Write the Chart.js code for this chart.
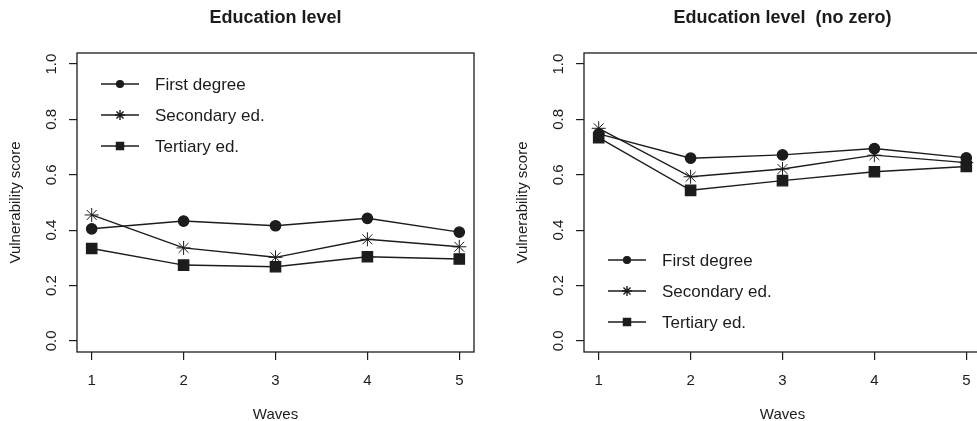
<!DOCTYPE html>
<html>
<head>
<meta charset="utf-8">
<script src="https://cdn.jsdelivr.net/npm/chart.js@4.4.1/dist/chart.umd.min.js"></script>
<style>
  html, body { margin: 0; padding: 0; background: #fff; overflow: hidden; width: 977px; height: 421px; }
  canvas { position: absolute; top: 0; }
  #left { left: 0; }
  #right { left: 490px; }
</style>
</head>
<body>
<canvas id="left" width="490" height="421"></canvas>
<canvas id="right" width="507" height="421"></canvas>
<script>
// data
const waves = [1, 2, 3, 4, 5];
const seriesNames = ["First degree", "Secondary ed.", "Tertiary ed."];
const yTicks = [0.0, 0.2, 0.4, 0.6, 0.8, 1.0];

const firstDegree = [0.405, 0.433, 0.416, 0.443, 0.393];
const secondaryEd = [0.455, 0.336, 0.302, 0.367, 0.340];
const tertiaryEd = [0.334, 0.274, 0.268, 0.304, 0.296];

const firstDegreeNZ = [0.748, 0.660, 0.672, 0.695, 0.661];
const secondaryEdNZ = [0.768, 0.593, 0.621, 0.671, 0.644];
const tertiaryEdNZ = [0.734, 0.544, 0.579, 0.611, 0.630];

const INK = "#1c1c1c";
const FONT = "'Liberation Sans', Arial, sans-serif";

// marker styles, R pch 19 / 8 / 15
const markers = [
  { pointStyle: "circle", radius: 5.2, legendRadius: 3.4, bw: 1.3 },
  { pointStyle: "star", radius: 7, legendRadius: 5, bw: 1 },
  { pointStyle: "rect", radius: 7.3, legendRadius: 5, bw: 1.3 },
];

// box around the plot + rotated y tick labels + R style legend
const rPlotBits = {
  id: "rPlotBits",
  afterDraw(chart, args, opts) {
    const { ctx, chartArea: a } = chart;
    const ys = chart.scales.y;
    ctx.save();
    ctx.strokeStyle = INK;
    ctx.lineWidth = 1.3;
    ctx.strokeRect(a.left, a.top, a.right - a.left, a.bottom - a.top);

    // y tick labels (vertical, like las=0)
    ctx.fillStyle = INK;
    ctx.font = "15px " + FONT;
    ctx.textAlign = "center";
    ctx.textBaseline = "middle";
    ys.ticks.forEach(t => {
      const y = ys.getPixelForValue(t.value);
      ctx.save();
      ctx.translate(a.left - 25, y);
      ctx.rotate(-Math.PI / 2);
      ctx.fillText(t.value.toFixed(1), 0, 0);
      ctx.restore();
    });

    // legend
    chart.data.datasets.forEach((ds, i) => {
      const y = a.top + opts.y + i * 31;
      const x0 = a.left + opts.x;
      ctx.strokeStyle = INK;
      ctx.lineWidth = 1.4;
      ctx.beginPath();
      ctx.moveTo(x0, y);
      ctx.lineTo(x0 + 38, y);
      ctx.stroke();
      ctx.fillStyle = INK;
      Chart.helpers.drawPoint(ctx, {
        pointStyle: markers[i].pointStyle,
        radius: markers[i].legendRadius,
        rotation: 0,
        borderWidth: markers[i].bw,
      }, x0 + 19, y);
      ctx.font = "17px " + FONT;
      ctx.textAlign = "left";
      ctx.textBaseline = "middle";
      ctx.fillText(ds.label, x0 + 54, y + 1);
    });
    ctx.restore();
  },
};

function makeChart(id, title, values, legendPos, padLeft) {
  const datasets = values.map((vals, i) => ({
    label: seriesNames[i],
    data: waves.map((w, j) => ({ x: w, y: vals[j] })),
    borderColor: INK,
    backgroundColor: INK,
    borderWidth: 1.4,
    pointStyle: markers[i].pointStyle,
    pointRadius: markers[i].radius,
    pointBorderWidth: markers[i].bw,
    pointBorderColor: INK,
    pointBackgroundColor: INK,
    tension: 0,
  }));

  return new Chart(document.getElementById(id), {
    type: "line",
    data: { datasets },
    plugins: [rPlotBits],
    options: {
      responsive: false,
      animation: false,
      layout: { padding: { left: padLeft, right: 16, top: 0, bottom: 0 } },
      plugins: {
        legend: { display: false },
        tooltip: { enabled: false },
        title: {
          display: true,
          text: title,
          fullSize: false,
          color: INK,
          font: { family: FONT, size: 18, weight: "bold", lineHeight: 1 },
          padding: { top: 9, bottom: 26 },
        },
        rPlotBits: legendPos,
      },
      scales: {
        x: {
          type: "linear",
          min: 0.84,
          max: 5.16,
          afterBuildTicks: s => { s.ticks = waves.map(v => ({ value: v })); },
          afterFit: s => { s.height = 69; },
          border: { display: false },
          grid: { drawOnChartArea: false, drawTicks: true, tickLength: 8, color: INK, lineWidth: 1.2 },
          ticks: { color: INK, font: { family: FONT, size: 15 }, padding: 11.5, maxRotation: 0 },
          title: {
            display: true,
            text: "Waves",
            color: INK,
            font: { family: FONT, size: 15, lineHeight: 0.8 },
            padding: { top: 0, bottom: 0 },
          },
        },
        y: {
          type: "linear",
          min: -0.04,
          max: 1.04,
          afterBuildTicks: s => { s.ticks = yTicks.map(v => ({ value: v })); },
          afterFit: s => { s.width = 77; },
          border: { display: false },
          grid: { drawOnChartArea: false, drawTicks: true, tickLength: 8, color: INK, lineWidth: 1.2 },
          ticks: { display: false },
          title: {
            display: true,
            text: "Vulnerability score",
            color: INK,
            font: { family: FONT, size: 15, lineHeight: 1 },
            padding: { top: 8.5, bottom: 0 },
          },
        },
      },
    },
  });
}

makeChart("left", "Education level", [firstDegree, secondaryEd, tertiaryEd], { x: 24, y: 31 }, 0);
makeChart("right", "Education level  (no zero)", [firstDegreeNZ, secondaryEdNZ, tertiaryEdNZ], { x: 24, y: 207 }, 17);
</script>
</body>
</html>
